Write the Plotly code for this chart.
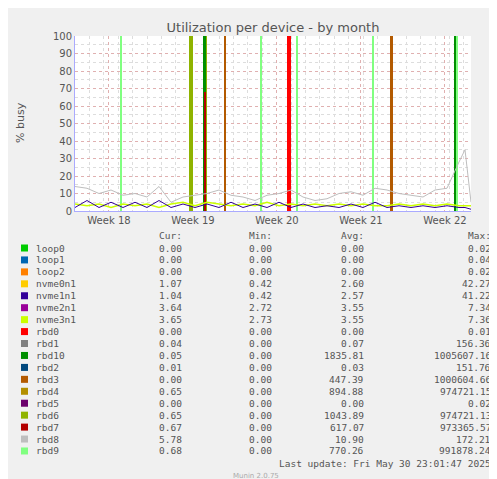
import plotly.graph_objects as go

# time in days from left edge of the plot
week_ticks = [2.83, 9.83, 16.83, 23.83, 30.83]
week_labels = ["Week 18", "Week 19", "Week 20", "Week 21", "Week 22"]
days = [0, 1, 2, 3, 4, 5, 6, 7, 8, 9, 10, 11, 12, 13, 14, 15, 16, 17, 18, 19, 20, 21, 22,
        23, 24, 25, 26, 27, 28, 29, 30, 31, 32, 32.5, 33]
rbd8_vals = [14, 13, 10, 12, 9, 10, 8, 14, 5, 8, 9, 10, 12, 9, 8, 6, 9, 10, 12, 8, 6, 7, 10,
             11, 9, 13, 12, 10, 9, 8, 12, 13, 28, 35, 5]
nvme1n1_vals = [2, 6, 2, 5, 2, 5, 2, 6, 2, 4, 2, 4, 2, 5, 2, 4, 2, 5, 2, 4, 2, 3, 2,
                4, 2, 5, 2, 3, 2, 3, 2, 3, 2, 2, 1]
nvme3n1_vals = [4, 3, 4, 2, 4, 3, 4, 2, 4, 5, 3, 5, 4, 3, 4, 3, 5, 3, 4, 3, 4, 3, 4,
                3, 4, 3, 3, 4, 3, 4, 3, 4, 3, 3, 3]

# spikes: device -> (times in days, heights)
spikes = {
    "rbd9": ([3.83, 15.5, 18.5, 24.83, 31.83], [100, 100, 100, 100, 100]),
    "rbd6": ([9.6, 9.75, 10.95], [100, 100, 100]),
    "rbd10": ([10.8, 31.7], [100, 100]),
    "rbd3": ([12.5, 26.4], [100, 100]),
    "rbd0": ([17.8, 17.95], [100, 100]),
    "rbd7": ([10.85], [68]),
}

names = ["loop0", "loop1", "loop2", "nvme0n1", "nvme1n1", "nvme2n1", "nvme3n1", "rbd0", "rbd1",
         "rbd10", "rbd2", "rbd3", "rbd4", "rbd5", "rbd6", "rbd7", "rbd8", "rbd9"]
colors = ["#00CC00", "#0066B3", "#FF8000", "#FFCC00", "#330099", "#990099", "#CCFF00", "#FF0000",
          "#808080", "#008F00", "#00487D", "#B35A00", "#B38F00", "#6B006B", "#8FB300", "#B30000",
          "#BEBEBE", "#80FF80"]
cur = ["0.00", "0.00", "0.00", "1.07", "1.04", "3.64", "3.65", "0.00", "0.04", "0.05", "0.01",
       "0.00", "0.65", "0.00", "0.65", "0.67", "5.78", "0.68"]
mins = ["0.00", "0.00", "0.00", "0.42", "0.42", "2.72", "2.73", "0.00", "0.00", "0.00", "0.00",
        "0.00", "0.00", "0.00", "0.00", "0.00", "0.00", "0.00"]
avgs = ["0.00", "0.00", "0.00", "2.60", "2.57", "3.55", "3.55", "0.00", "0.07", "1835.81", "0.03",
        "447.39", "894.88", "0.00", "1043.89", "617.07", "10.90", "770.26"]
maxs = ["0.02", "0.04", "0.02", "42.27", "41.22", "7.34", "7.36", "0.01", "156.36", "1005607.16",
        "151.76", "1000604.66", "974721.15", "0.02", "974721.13", "973365.57", "172.21", "991878.24"]

col = dict(zip(names, colors))
fig = go.Figure()
fig.add_trace(go.Scatter(x=days, y=rbd8_vals, mode="lines", line=dict(color=col["rbd8"], width=1)))
fig.add_trace(go.Scatter(x=days, y=nvme3n1_vals, mode="lines", line=dict(color=col["nvme3n1"], width=1.5)))
fig.add_trace(go.Scatter(x=days, y=nvme1n1_vals, mode="lines", line=dict(color=col["nvme1n1"], width=1)))
for dev, (t, h) in spikes.items():
    fig.add_trace(go.Bar(x=t, y=h, width=0.15, marker=dict(color=col[dev], line=dict(width=0))))

L, R, T, B = 67, 34, 28, 276
W, H = 497, 479
pw, ph = W - L - R, H - T - B

def px(x):
    return (x - L) / pw

def py(y):
    return (H - B - y) / ph

ann = []
mono = "DejaVu Sans Mono"
fs = 9.5
tc = "#555555"
ann.append(dict(x=px(176), y=py(227), text="Cur:", xanchor="right"))
ann.append(dict(x=px(266), y=py(227), text="Min:", xanchor="right"))
ann.append(dict(x=px(358), y=py(227), text="Avg:", xanchor="right"))
ann.append(dict(x=px(485), y=py(227), text="Max:", xanchor="right"))
shapes = []
for i, n in enumerate(names):
    yy = 240 + i * 11.94
    shapes.append(dict(type="rect", xref="paper", yref="paper", x0=px(13), x1=px(20),
                       y0=py(yy + 3.5), y1=py(yy - 3.5), fillcolor=colors[i], line=dict(width=0)))
    ann.append(dict(x=px(26), y=py(yy), text=n, xanchor="left"))
    ann.append(dict(x=px(176), y=py(yy), text=cur[i], xanchor="right"))
    ann.append(dict(x=px(266), y=py(yy), text=mins[i], xanchor="right"))
    ann.append(dict(x=px(358), y=py(yy), text=avgs[i], xanchor="right"))
    ann.append(dict(x=px(485), y=py(yy), text=maxs[i], xanchor="right"))
ann.append(dict(x=px(485), y=py(455), text="Last update: Fri May 30 23:01:47 2025", xanchor="right"))
for a in ann:
    a.update(xref="paper", yref="paper", yanchor="middle", showarrow=False,
             font=dict(family=mono, size=fs, color=tc))
ann.append(dict(x=px(248), y=py(468), text="Munin 2.0.75", xref="paper", yref="paper",
                showarrow=False, xanchor="center", yanchor="middle",
                font=dict(family="DejaVu Sans", size=7, color="#AAAAAA")))
ann.append(dict(x=px(487), y=py(62), text="RRDTOOL / TOBI OETIKER", xref="paper", yref="paper",
                showarrow=False, textangle=90, xanchor="center", yanchor="middle",
                font=dict(family="DejaVu Sans", size=7, color="#BBBBBB")))
ann.append(dict(x=px(12), y=py(115), text="% busy", xref="paper", yref="paper",
                showarrow=False, textangle=-90, xanchor="center", yanchor="middle",
                font=dict(family="DejaVu Sans", size=11, color="#555555")))

fig.update_layout(
    width=W, height=H, margin=dict(l=L, r=R, t=T, b=B, autoexpand=False),
    paper_bgcolor="#F0F0F0", plot_bgcolor="#FFFFFF", showlegend=False, bargap=0,
    barmode="overlay",
    title=dict(text="Utilization per device - by month", x=0.5, xref="paper", y=1 - 19 / H,
               yanchor="middle", font=dict(family="DejaVu Sans", size=13, color="#555555")),
    annotations=ann, shapes=shapes,
    xaxis=dict(range=[0, 33], tickvals=week_ticks, ticktext=week_labels, showgrid=True,
               gridcolor="#E0B0B0", griddash="dot", gridwidth=1, zeroline=False, automargin=False,
               tickfont=dict(family="DejaVu Sans", size=10, color="#555555"), ticks="",
               minor=dict(dtick=1.2, showgrid=True, gridcolor="#DDDDDD", griddash="dot"),
               showline=True, linecolor="#AAAAFF"),
    yaxis=dict(range=[0, 100], dtick=10, showgrid=True, gridcolor="#E0B0B0", griddash="dot",
               zeroline=False, automargin=False,
               tickfont=dict(family="DejaVu Sans", size=10, color="#555555"),
               minor=dict(dtick=5, showgrid=True, gridcolor="#DDDDDD", griddash="dot"),
               showline=True, linecolor="#AAAAFF", ticks=""),
)
fig.write_html("out.html")
